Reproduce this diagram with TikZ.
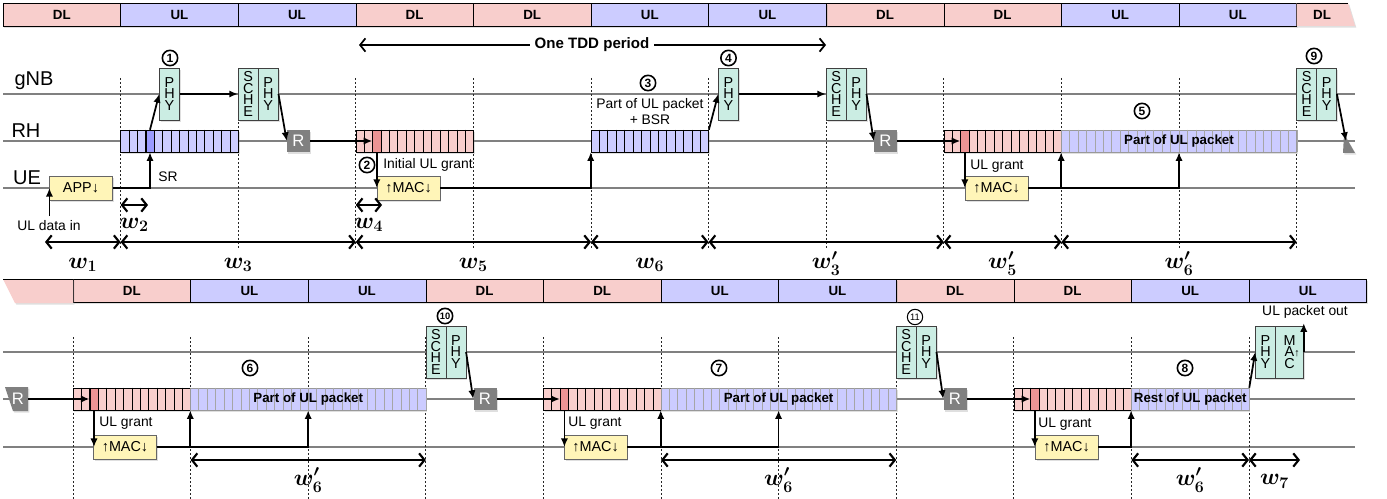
\documentclass[tikz,border=0pt]{standalone}
\usepackage{amsmath}
\usepackage[no-math]{fontspec}
\setmainfont{Liberation Sans}
\setsansfont{Liberation Sans}
\usepackage{tikz}
\usetikzlibrary{arrows.meta,calc,shadows}
\definecolor{DLfill}{HTML}{F8CECC}
\definecolor{DLdark}{HTML}{EC9494}
\definecolor{ULfill}{HTML}{CCCCFF}
\definecolor{ULdark}{HTML}{9A9AFF}
\definecolor{Mint}{HTML}{CBEDE3}
\definecolor{Cream}{HTML}{FFF5B8}
\definecolor{Rgray}{HTML}{808080}
\definecolor{Tline}{HTML}{808080}

\begin{document}
\begin{tikzpicture}[x=0.75pt,y=-0.75pt,
  every node/.style={font=\fontsize{10.4}{12.5}\selectfont},
  shd/.style={drop shadow={opacity=0.25,shadow xshift=1pt,shadow yshift=-1.2pt}},
  slotdl/.style={draw,fill=DLfill,minimum width=88.2pt,minimum height=17.25pt,inner sep=0pt,font=\bfseries\fontsize{10}{12}\selectfont,shd},
  slotul/.style={slotdl,fill=ULfill},
  dlbar/.style={draw,fill=DLfill,minimum width=88.2pt,minimum height=16.5pt,inner sep=0pt,shd},
  ulbar/.style={dlbar,fill=ULfill},
  pkbar/.style={draw=black!40,fill=ULfill,minimum height=16.5pt,inner sep=0pt,shd},
  pktext/.style={font=\bfseries\fontsize{10}{12}\selectfont,inner sep=0pt},
  srcell/.style={draw,fill=ULdark,minimum width=6.3pt,minimum height=16.5pt,inner sep=0pt},
  grcell/.style={srcell,fill=DLdark},
  layer/.style={draw=black!75,fill=Mint,minimum width=15pt,minimum height=39pt,inner sep=0pt,align=center,font=\fontsize{10.8}{8.9}\selectfont,shd},
  rbox/.style={fill=Rgray,text=white,minimum width=17.25pt,minimum height=16.5pt,inner sep=0pt,font=\fontsize{12.5}{14}\selectfont,shd},
  macbox/.style={draw=black!60,fill=Cream,minimum width=47pt,minimum height=18pt,inner sep=0pt,font=\fontsize{10.8}{12}\selectfont,shd},
  num/.style={circle,draw,line width=1.2pt,inner sep=0pt,minimum size=11.5pt,font=\bfseries\fontsize{9}{9}\selectfont},
  lane/.style={font=\fontsize{15}{18}\selectfont},
  tline/.style={draw=Tline,line width=0.8pt},
  vline/.style={black!85,line width=0.5pt,dash pattern=on 1.5pt off 1.5pt},
  conn/.style={-{Latex[length=6.5pt,width=5.5pt]},line width=1.3pt},
  span/.style={{Straight Barb[length=4pt,width=10pt]}-{Straight Barb[length=4pt,width=10pt]},line width=1.6pt},
  wlab/.style={font=\fontsize{18}{20}\selectfont,inner sep=0pt}]
\useasboundingbox (0,0) rectangle (1387,499);

% lanes
\node[lane] (lgnb) at (34,81) {gNB};
\node[lane] (lrh) at (26,131) {RH};
\node[lane] (lue) at (27,178) {UE};
\foreach \y in {94,141,188,352,399,447}
  \draw[tline] (3,\y) -- (1355,\y);
\foreach \i in {1,...,11}
  \draw[vline] ({3+117.6*\i},78) -- ++(0,172);
\foreach \i in {0,...,10}
  \draw[vline] ({73+117.6*\i},337) -- ++(0,162);

% TDD slots
\foreach \i in {0,3,4,7,8}{
  \node[slotdl] (ts\i) at ({61.8+117.6*\i},14.5) {DL};
  \node[slotdl] (bs\i) at ({131.8+117.6*\i},291) {DL};}
\foreach \i in {1,2,5,6,9,10}{
  \node[slotul] (ts\i) at ({61.8+117.6*\i},14.5) {UL};
  \node[slotul] (bs\i) at ({131.8+117.6*\i},291) {UL};}
\fill[DLfill,shd] (1296.6,3) -- (1348,3) -- (1355,26) -- (1296.6,26) -- cycle;
\draw (1296.6,3) -- (1348,3);
\node[font=\bfseries\fontsize{10}{12}\selectfont] (ts11) at (1322,14.5) {DL};
\fill[DLfill,shd] (3,279) -- (73,279) -- (73,303) -- (15,303) -- cycle;
\draw (3,279) -- (73,279);

% RH buffers
\foreach \n/\x/\y in {ul1/179.4/141,ul2/649.8/141}
  \node[ulbar] (\n) at (\x,\y) {};
\foreach \n/\x/\y in {dl1/414.6/141,dl2/1002.6/141,dl3/131.8/399,dl4/602.2/399,dl5/1072.6/399}
  \node[dlbar] (\n) at (\x,\y) {};
\foreach \n in {ul1,ul2,dl1,dl2,dl3,dl4,dl5}
  \foreach \c in {1,...,13}
    \draw ($(\n.north west)!\c/14!(\n.north east)$) -- ($(\n.south west)!\c/14!(\n.south east)$);
\node[pkbar,minimum width=176.4pt] (pk1) at (1179,141) {};
\node[pkbar,minimum width=176.4pt] (pk2) at (308.2,399) {};
\node[pkbar,minimum width=176.4pt] (pk3) at (778.6,399) {};
\node[pkbar,minimum width=88.2pt] (pk4) at (1190.2,399) {};
\foreach \n/\k in {pk1/28,pk2/28,pk3/28,pk4/14}
  \foreach \c in {1,...,\k}
    \draw[black!35] ($(\n.north west)!\c/\k!(\n.north east)$) -- ($(\n.south west)!\c/\k!(\n.south east)$);
\node[pktext] (pt1) at (pk1) {Part of UL packet};
\node[pktext] (pt2) at (pk2) {Part of UL packet};
\node[pktext] (pt3) at (pk3) {Part of UL packet};
\node[pktext] (pt4) at (pk4) {Rest of UL packet};
\node[srcell] (sr) at (150,141) {};
\node[grcell] (g1) at (376.8,141) {};
\node[grcell] (g2) at (964.8,141) {};
\node[grcell] (g3) at (94,399) {};
\node[grcell] (g4) at (564.4,399) {};
\node[grcell] (g5) at (1034.8,399) {};

% gNB layers
\node[layer] (phy1) at (169.5,94) {P\\H\\Y};
\node[layer] (sche1) at (248.2,94) {S\\C\\H\\E};
\node[layer] (phy2) at (268.2,94) {P\\H\\Y};
\node[layer] (phy3) at (728.5,94) {P\\H\\Y};
\node[layer] (sche2) at (836.2,94) {S\\C\\H\\E};
\node[layer] (phy4) at (856.2,94) {P\\H\\Y};
\node[layer] (sche3) at (1306.6,94) {S\\C\\H\\E};
\node[layer] (phy5) at (1326.6,94) {P\\H\\Y};
\node[layer] (sche4) at (435.8,352) {S\\C\\H\\E};
\node[layer] (phy6) at (455.8,352) {P\\H\\Y};
\node[layer] (sche5) at (906.2,352) {S\\C\\H\\E};
\node[layer] (phy7) at (926.2,352) {P\\H\\Y};
\node[layer] (phy8) at (1265.5,352) {P\\H\\Y};
\node[layer,minimum width=21pt] (upmac) at (1289.5,352) {M\\A\rlap{\fontsize{8}{8}\selectfont↑}\\C};

% radio heads
\node[rbox] (r1) at (298.5,141) {R};
\node[rbox] (r2) at (885.5,141) {R};
\node[rbox] (r3) at (485,399) {R};
\node[rbox] (r4) at (955,399) {R};
\fill[Rgray,shd] (1344,134) -- (1355,153) -- (1343,153) -- cycle;
\coordinate (rcut) at (1346,141);
\fill[Rgray,shd] (5,387) -- (28,387) -- (28,411) -- (13,411) -- cycle;
\node[text=white,font=\fontsize{12.5}{14}\selectfont] (r0) at (18,399) {R};
\coordinate (r0e) at (28,399);

% UE
\node[macbox] (app) at (81,188) {APP↓};
\node[macbox] (mac1) at (408.5,188) {↑MAC↓};
\node[macbox] (mac2) at (996.5,188) {↑MAC↓};
\node[macbox] (mac3) at (125,447) {↑MAC↓};
\node[macbox] (mac4) at (595.5,447) {↑MAC↓};
\node[macbox] (mac5) at (1066.5,447) {↑MAC↓};

% labels
\node (lin) at (49,226) {UL data in};
\node (srtxt) at (168,177) {SR};
\node (igr) at (428,165) {Initial UL grant};
\node[align=center] (bsr) at (650,111.5) {Part of UL packet\\+ BSR};
\node (gr2) at (997,166) {UL grant};
\node (gr3) at (126,423) {UL grant};
\node (gr4) at (595,423) {UL grant};
\node (gr5) at (1065,424) {UL grant};
\node (out) at (1305,312) {UL packet out};
\node[num] (n1) at (170,58) {1};
\node[num] (n2) at (367,165) {2};
\node[num] (n3) at (648,83) {3};
\node[num] (n4) at (728.5,58) {4};
\node[num] (n5) at (1142,111) {5};
\node[num] (n6) at (250,368) {6};
\node[num] (n7) at (719,368) {7};
\node[num] (n8) at (1185,368) {8};
\node[num] (n9) at (1314,56) {9};
\node[num,font=\bfseries\fontsize{7}{7}\selectfont] (n10) at (445,316) {10};
\node[num,line width=0.8pt,font=\fontsize{7}{7}\selectfont] (n11) at (915,317) {11};

% flow
\draw[conn] (lin.north -| app.west) -- (app.west);
\draw[conn] (app.east) -| (sr.south);
\draw[conn] (sr.north) -- (phy1.west);
\draw[conn] (phy1.east) -- (sche1.west);
\draw[conn] (phy2.east) -- (r1.west);
\draw[conn] (r1.east) -- (g1.west);
\draw[conn] (g1.south) -- (g1.south |- mac1.west);
\draw[conn] (mac1.east) -| (ul2.south west);
\draw[conn] (ul2.north east) -- (phy3.west);
\draw[conn] (phy3.east) -- (sche2.west);
\draw[conn] (phy4.east) -- (r2.west);
\draw[conn] (r2.east) -- (g2.west);
\draw[conn] (g2.south) -- (g2.south |- mac2.west);
\draw[conn] (mac2.east) -| (pk1.south west);
\draw[conn] (mac2.east) -| (pk1.south);
\draw[conn] (phy5.east) -- (rcut);
\draw[conn] (r0e) -- (g3.west);
\draw[conn] (g3.south) -- (g3.south |- mac3.west);
\draw[conn] (mac3.east) -| (pk2.south west);
\draw[conn] (mac3.east) -| (pk2.south);
\draw[conn] (phy6.east) -- (r3.west);
\draw[conn] (r3.east) -- (g4.west);
\draw[conn] (g4.south) -- (g4.south |- mac4.west);
\draw[conn] (mac4.east) -| (pk3.south west);
\draw[conn] (mac4.east) -| (pk3.south);
\draw[conn] (phy7.east) -- (r4.west);
\draw[conn] (r4.east) -- (g5.west);
\draw[conn] (g5.south) -- (g5.south |- mac5.west);
\draw[conn] (mac5.east) -| (pk4.south west);
\draw[conn] (pk4.north east) -- (phy8.west);
\draw[conn] (upmac.east) -- (upmac.east |- out.south);

% one TDD period
\node[font=\bfseries\fontsize{11.3}{13}\selectfont] (tdd) at (592,45) {One TDD period};
\coordinate (tddl) at (359,45);
\coordinate (tddr) at (826,45);
\draw[-{Straight Barb[length=4pt,width=10pt]},line width=1.3pt] (tdd.west) -- (tddl);
\draw[-{Straight Barb[length=4pt,width=10pt]},line width=1.3pt] (tdd.east) -- (tddr);

% waiting times
\foreach \i in {0,...,11}
  \coordinate (t\i) at ({3+117.6*\i},242);
\foreach \i in {0,...,10}
  \coordinate (b\i) at ({73+117.6*\i},460);
\coordinate (w1s) at (45,242);
\coordinate (w2e) at (148,205);
\coordinate (w4e) at (382,205);
\coordinate (w7e) at (1300,460);
\draw[span] (w1s) -- (t1) node[wlab,midway,yshift=-17pt] {$\boldsymbol{w_1}$};
\draw[span] (t1 |- w2e) -- (w2e) node[wlab,midway,yshift=-15pt] {$\boldsymbol{w_2}$};
\draw[span] (t1) -- (t3) node[wlab,midway,yshift=-17pt] {$\boldsymbol{w_3}$};
\draw[span] (t3 |- w4e) -- (w4e) node[wlab,midway,yshift=-15pt] {$\boldsymbol{w_4}$};
\draw[span] (t3) -- (t5) node[wlab,midway,yshift=-17pt] {$\boldsymbol{w_5}$};
\draw[span] (t5) -- (t6) node[wlab,midway,yshift=-17pt] {$\boldsymbol{w_6}$};
\draw[span] (t6) -- (t8) node[wlab,midway,yshift=-16pt] {$\boldsymbol{w_3'}$};
\draw[span] (t8) -- (t9) node[wlab,midway,yshift=-16pt] {$\boldsymbol{w_5'}$};
\draw[span] (t9) -- (t11) node[wlab,midway,yshift=-16pt] {$\boldsymbol{w_6'}$};
\draw[span] (b1) -- (b3) node[wlab,midway,yshift=-15pt] {$\boldsymbol{w_6'}$};
\draw[span] (b5) -- (b7) node[wlab,midway,yshift=-15pt] {$\boldsymbol{w_6'}$};
\draw[span] (b9) -- (b10) node[wlab,midway,yshift=-15pt] {$\boldsymbol{w_6'}$};
\draw[span] (b10) -- (w7e) node[wlab,midway,yshift=-16pt] {$\boldsymbol{w_7}$};
\end{tikzpicture}
\end{document}
